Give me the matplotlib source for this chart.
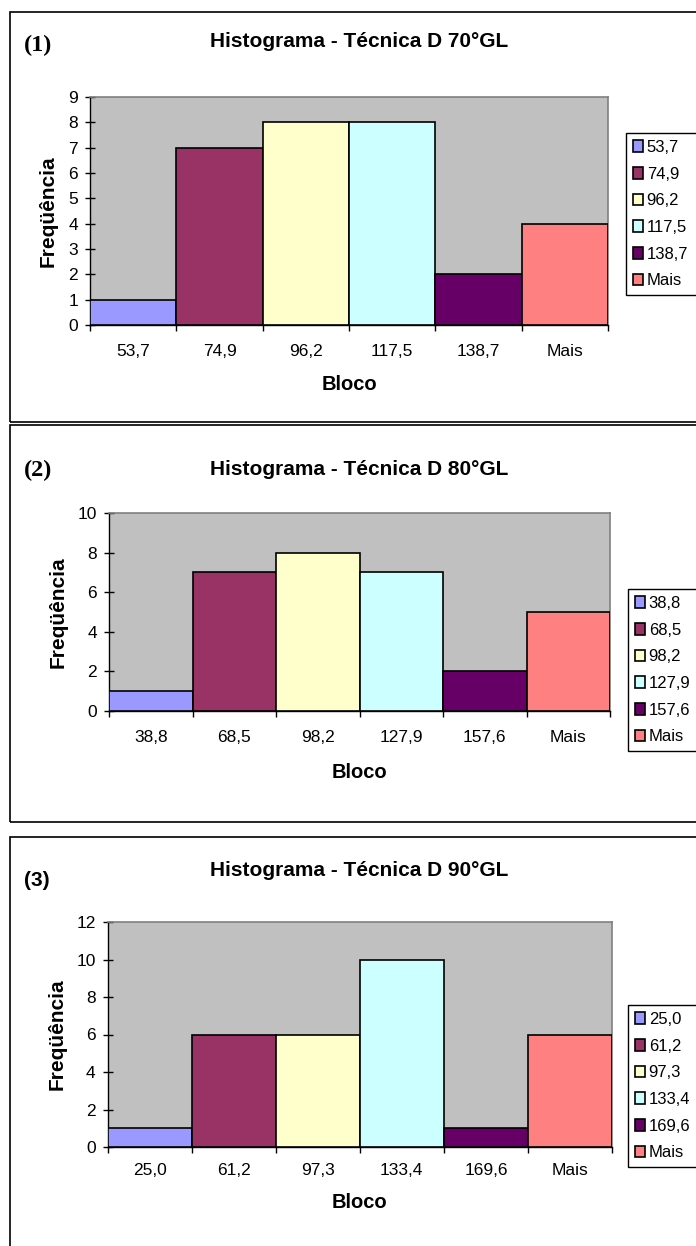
import matplotlib.pyplot as plt
from matplotlib.patches import Rectangle
import numpy as np

plt.rcParams['font.family'] = ['Liberation Sans', 'DejaVu Sans']

# data
bins_70 = ['53,7', '74,9', '96,2', '117,5', '138,7', 'Mais']
freq_70 = [1, 7, 8, 8, 2, 4]
bins_80 = ['38,8', '68,5', '98,2', '127,9', '157,6', 'Mais']
freq_80 = [1, 7, 8, 7, 2, 5]
bins_90 = ['25,0', '61,2', '97,3', '133,4', '169,6', 'Mais']
freq_90 = [1, 6, 6, 10, 1, 6]
titles = ['Histograma - Técnica D 70°GL', 'Histograma - Técnica D 80°GL', 'Histograma - Técnica D 90°GL']
tags = ['(1)', '(2)', '(3)']
y_max = [9, 10, 12]
y_step = [1, 2, 2]

all_bins = [bins_70, bins_80, bins_90]
all_freq = [freq_70, freq_80, freq_90]

colors = ['#9999FF', '#993366', '#FFFFCC', '#CCFFFF', '#660066', '#FF8080']

W, H = 696, 1246
fig = plt.figure(figsize=(W / 100, H / 100), dpi=100)


def fx(px):
    return px / W


def fy(py):
    return 1 - py / H


# layout in pixels (left, top, right, bottom)
axes_px = [(90, 97, 608, 325), (109, 513, 610, 711), (107.5, 922, 612, 1147)]
frame_px = [(10, 12, 720, 422), (10, 425, 720, 822), (10, 837, 720, 1270)]
legend_px = [(626, 133, 292), (628, 589, 753), (628, 1005, 1162)]
title_y = [47, 475, 876]
tag_y = [45, 470, 880]
ylab_x = [48, 58, 57]
xlab_y = [385, 772, 1203]
tick_pad = [14, 14, 11.5]

for i in range(3):
    x0, y0, x1, y1 = frame_px[i]
    fig.patches.append(Rectangle((fx(x0), fy(y1)), fx(x1) - fx(x0), (y1 - y0) / H,
                                 transform=fig.transFigure, fill=False,
                                 edgecolor='black', linewidth=1.2))

    l, t, r, b = axes_px[i]
    ax = fig.add_axes([fx(l), fy(b), fx(r) - fx(l), (b - t) / H])
    bars = ax.bar(np.arange(6), all_freq[i], width=1.0, color=colors,
                  edgecolor='black', linewidth=1.2, zorder=3)
    ax.set_xlim(-0.5, 5.5)
    ax.set_ylim(0, y_max[i])
    ax.set_facecolor('#C0C0C0')
    for s in ['top', 'right']:
        ax.spines[s].set_color('#808080')
        ax.spines[s].set_linewidth(1.2)
    for s in ['left', 'bottom']:
        ax.spines[s].set_color('black')
        ax.spines[s].set_linewidth(1.0)

    ax.set_yticks(np.arange(0, y_max[i] + 1, y_step[i]))
    ax.tick_params(axis='y', direction='inout', length=7, width=1, pad=5, labelsize=12.5)
    ax.set_xticks(np.arange(7) - 0.5, [''] * 7)
    ax.set_xticks(np.arange(6), all_bins[i], minor=True)
    ax.tick_params(axis='x', which='major', direction='out', length=4.5, width=1)
    ax.tick_params(axis='x', which='minor', length=0, pad=tick_pad[i], labelsize=12.5)

    fig.text(fx(ylab_x[i]), fy((t + b) / 2), 'Freqüência', rotation=90,
             ha='center', va='center', fontsize=15, fontweight='bold')
    fig.text(fx((l + r) / 2), fy(xlab_y[i]), 'Bloco', ha='center', va='center',
             fontsize=14.5, fontweight='bold')
    fig.text(fx(359), fy(title_y[i]), titles[i], ha='center', va='baseline',
             fontsize=15, fontweight='bold')
    if i < 2:
        fig.text(fx(38), fy(tag_y[i]), tags[i], ha='center', va='center',
                 fontsize=17.5, fontweight='bold', family='Liberation Serif')
    else:
        fig.text(fx(37), fy(tag_y[i]), tags[i], ha='center', va='center',
                 fontsize=15, fontweight='bold')

    lx, lt, lb = legend_px[i]
    leg = ax.legend(list(bars), all_bins[i], loc='upper left', mode='expand',
                    bbox_to_anchor=(fx(lx), fy(lb), fx(730) - fx(lx), (lb - lt) / H),
                    bbox_transform=fig.transFigure, borderaxespad=0,
                    fontsize=12, handlelength=0.62, handleheight=0.68,
                    handletextpad=0.2, labelspacing=0.7, borderpad=0.42,
                    fancybox=False, framealpha=1)
    leg.get_frame().set_edgecolor('black')
    leg.get_frame().set_linewidth(1.0)

plt.savefig('out.png', dpi=100)
plt.close()
